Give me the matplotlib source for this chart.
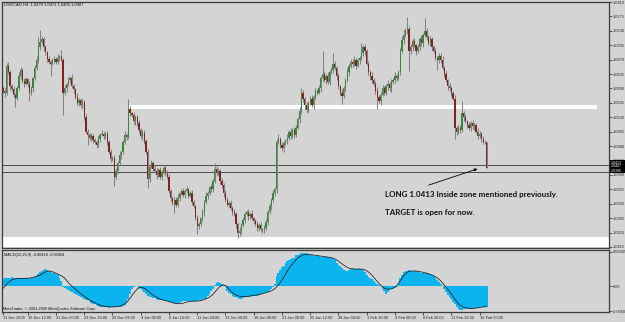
import numpy as np
import matplotlib
matplotlib.use("Agg")
import matplotlib.pyplot as plt
from matplotlib.patches import Rectangle

# USDCAD H4, 11 Dec 2009 .. 16 Feb 2010. prices in pips above 1.0000
first_open = 600
closes = [
    595, 588, 655, 640, 605, 598, 585, 578, 600, 630, 645, 618, 612, 622, 610, 590, 600, 625, 650, 668, 700, 712, 720, 700, 688,
    672, 665, 660, 668, 672, 665, 675, 678, 670, 590, 600, 610, 620, 625, 605, 598, 580, 565, 572, 560, 568, 530, 495, 488, 480,
    485, 476, 470, 462, 478, 488, 490, 484, 490, 470, 446, 428, 432, 385, 400, 420, 438, 445, 470, 488, 482, 550, 540, 535, 520,
    530, 515, 500, 484, 492, 472, 445, 380, 410, 420, 405, 400, 390, 402, 385, 398, 408, 395, 385, 350, 335, 322, 330, 318, 335,
    345, 350, 342, 350, 355, 340, 345, 325, 315, 285, 265, 270, 285, 300, 325, 340, 345, 360, 355, 375, 405, 395, 400, 375, 365,
    345, 330, 318, 322, 310, 300, 295, 270, 248, 255, 268, 280, 295, 300, 290, 295, 285, 278, 270, 262, 268, 258, 256, 262, 275,
    300, 315, 330, 345, 355, 470, 478, 462, 455, 468, 472, 480, 495, 485, 500, 488, 505, 525, 545, 590, 575, 560, 548, 565, 575,
    560, 580, 595, 590, 600, 625, 635, 620, 630, 615, 640, 645, 660, 650, 630, 605, 590, 582, 600, 620, 640, 655, 665, 660, 670,
    655, 668, 675, 685, 700, 690, 660, 640, 630, 620, 612, 595, 580, 570, 585, 600, 590, 605, 612, 600, 615, 620, 630, 625, 640,
    690, 718, 730, 740, 745, 690, 700, 715, 705, 690, 700, 720, 710, 730, 740, 725, 710, 720, 700, 690, 675, 668, 680, 670, 650,
    635, 620, 605, 600, 590, 575, 505, 495, 505, 500, 540, 530, 520, 512, 505, 515, 508, 512, 495, 485, 490, 478, 470, 470, 407,
]
wick_up = [
    6, 5, 7, 9, 4, 6, 8, 3, 5, 9,  6, 4, 7, 5, 3, 8, 6, 4, 7, 10,
    25, 30, 8, 5, 6, 4, 7, 5, 6, 8,  5, 9, 4, 16, 5, 8, 4, 7, 6, 9,
    5, 3, 8, 6, 4, 7, 5, 8, 6, 4,  7, 5, 3, 6, 9, 5, 8, 4, 6, 7,
    5, 8, 4, 6, 7, 5, 9, 4, 6, 8,  5, 24, 7, 4, 8, 6, 5, 9, 4, 7,
    6, 5, 8, 4, 7, 5, 9, 6, 4, 8,  5, 7, 4, 6, 8, 5, 3, 7, 6, 9,
    4, 6, 8, 5, 7, 4, 6, 9, 5, 3,  7, 6, 4, 8, 5, 9, 6, 4, 7, 5,
    13, 6, 8, 4, 7, 5, 9, 6, 4, 8,  5, 7, 4, 6, 9, 5, 8, 4, 6, 7,
    5, 9, 4, 6, 8, 5, 7, 4, 6, 8,  5, 7, 4, 9, 6, 8, 12, 5, 7, 4,
    6, 9, 5, 8, 4, 7, 6, 5, 9, 10,  7, 5, 8, 4, 6, 9, 5, 7, 4, 8,
    6, 55, 7, 5, 9, 4, 8, 26, 6, 5,  7, 4, 8, 6, 5, 9, 4, 7, 6, 8,
    5, 7, 4, 25, 6, 8, 5, 7, 4, 9,  6, 5, 8, 4, 7, 9, 5, 6, 8, 4,
    7, 5, 9, 6, 4, 8, 10, 12, 8, 29,  6, 9, 5, 7, 4, 8, 6, 9, 5, 30,
    7, 4, 8, 6, 5, 9, 4, 7, 6, 8,  5, 7, 4, 9, 6, 5, 8, 4, 7, 6,
    30, 5, 8, 4, 7, 6, 9, 5, 4, 8,  6, 5, 7, 4, 1,
]
wick_dn = [
    5, 8, 4, 6, 9, 5, 7, 24, 6, 4,  7, 5, 9, 4, 6, 20, 5, 8, 4, 6,
    5, 7, 4, 9, 6, 8, 5, 30, 4, 7,  6, 5, 8, 4, 55, 6, 9, 4, 7, 5,
    8, 6, 4, 7, 5, 9, 6, 4, 25, 5,  7, 8, 4, 6, 5, 9, 4, 7, 6, 8,
    5, 7, 4, 23, 6, 8, 5, 9, 4, 6,  7, 5, 8, 4, 6, 9, 5, 7, 4, 8,
    6, 5, 22, 7, 4, 8, 6, 9, 5, 4,  7, 6, 8, 4, 5, 9, 6, 24, 7, 5,
    8, 4, 6, 9, 5, 7, 4, 8, 6, 5,  19, 7, 4, 6, 9, 5, 8, 4, 7, 6,
    5, 8, 4, 7, 6, 9, 5, 4, 8, 6,  7, 5, 9, 12, 6, 8, 4, 7, 5, 9,
    6, 4, 8, 5, 7, 9, 4, 6, 8, 5,  7, 4, 9, 6, 5, 8, 4, 7, 6, 9,
    5, 8, 4, 7, 6, 9, 5, 4, 8, 6,  7, 9, 5, 8, 4, 6, 9, 5, 7, 4,
    8, 6, 5, 9, 4, 7, 6, 8, 5, 9,  6, 8, 20, 5, 7, 4, 9, 6, 8, 5,
    7, 4, 9, 6, 5, 8, 4, 7, 9, 6,  5, 8, 30, 6, 9, 4, 7, 5, 8, 6,
    9, 4, 7, 6, 5, 8, 4, 9, 6, 7,  48, 6, 9, 5, 8, 4, 7, 6, 9, 5,
    8, 4, 6, 9, 5, 7, 22, 6, 8, 4,  7, 5, 9, 6, 8, 4, 27, 7, 5, 9,
    6, 8, 4, 7, 5, 9, 6, 8, 4, 7,  5, 9, 6, 4, 1,
]
# MACD(12,26,9), units of 0.00001
macd_hist = [
    140, 150, 155, 160, 165, 168, 165, 160, 162, 165,  166, 160, 155, 150, 148, 145, 150, 160, 180, 200,
    230, 270, 300, 320, 326, 320, 300, 280, 260, 250,  240, 210, 150, 100, -10, -40, -60, -80, -100, -121,
    -140, -160, -180, -200, -215, -230, -250, -270, -280, -300,  -330, -345, -360, -380, -395, -405, -410, -415, -420, -420,
    -422, -420, -418, -420, -418, -415, -410, -408, -400, -380,  -330, -250, -150, -60, -10, 5, -5, -30, -60, -90,
    -120, -150, -190, -210, -220, -230, -240, -255, -270, -280,  -280, -285, -290, -300, -310, -320, -330, -340, -345, -340,
    -330, -320, -300, -295, -290, -290, -288, -290, -292, -290,  -285, -275, -265, -260, -255, -250, -200, -150, -100, -60,
    20, 60, 70, 60, 30, 15, -20, -90, -130, -160,  -190, -210, -220, -235, -250, -245, -230, -220, -215, -210,
    -205, -200, -195, -200, -190, -170, -150, -135, -130, -125,  -115, -100, -60, -25, 30, 200, 260, 320, 370, 390,
    450, 480, 500, 520, 540, 550, 600, 615, 625, 640,  650, 655, 640, 620, 605, 600, 595, 590, 585, 580,
    575, 575, 570, 565, 560, 560, 555, 540, 500, 450,  420, 400, 350, 320, 300, 300, 320, 340, 345, 340,
    335, 340, 345, 340, 320, 280, 220, 180, 150, 130,  90, 60, 40, 20, 0, -60, -100, -150, -120, -80,
    -60, -50, -40, -10, 60, 150, 220, 270, 290, 300,  305, 300, 295, 300, 295, 280, 270, 260, 255, 250,
    250, 245, 240, 215, 190, 160, 120, 80, 40, 0,  -60, -120, -170, -220, -260, -310, -360, -410, -440, -460,
    -470, -455, -445, -440, -438, -440, -440, -435, -430, -425,  -420, -418, -415, -420, -418,
]
macd_signal = [
    -45, -10, 30, 70, 100, 120, 134, 140, 145, 148,  150, 150, 150, 150, 152, 155, 160, 168, 178, 190,
    200, 215, 235, 255, 275, 288, 292, 290, 280, 265,  250, 235, 215, 200, 180, 150, 110, 70, 30, 0,
    -30, -60, -90, -120, -150, -175, -200, -225, -250, -275,  -295, -310, -325, -345, -360, -375, -385, -395, -400, -405,
    -408, -410, -410, -408, -405, -400, -395, -385, -370, -350,  -320, -280, -240, -190, -140, -100, -60, -35, -25, -30,
    -45, -65, -90, -120, -150, -175, -200, -220, -240, -255,  -265, -275, -285, -295, -305, -315, -325, -335, -340, -345,
    -345, -340, -335, -325, -315, -305, -300, -298, -295, -295,  -295, -290, -285, -275, -265, -250, -235, -215, -190, -160,
    -120, -80, -40, -10, 15, 20, 10, -20, -60, -100,  -130, -155, -175, -190, -200, -205, -208, -208, -205, -200,
    -195, -190, -185, -180, -175, -170, -160, -150, -140, -130,  -120, -110, -95, -75, -50, -20, 20, 70, 120, 170,
    230, 290, 340, 390, 430, 470, 510, 545, 570, 590,  605, 612, 616, 616, 614, 610, 605, 600, 595, 590,
    585, 580, 575, 570, 565, 560, 555, 545, 530, 510,  485, 460, 435, 410, 385, 365, 350, 340, 335, 332,
    330, 330, 330, 330, 325, 315, 300, 275, 245, 210,  170, 130, 90, 50, 15, -15, -40, -55, -62, -62,
    -55, -40, -20, 10, 50, 100, 150, 200, 240, 270,  285, 292, 295, 295, 292, 288, 282, 275, 268, 260,
    250, 240, 228, 215, 200, 180, 160, 130, 100, 60,  20, -20, -65, -110, -160, -210, -260, -305, -345, -375,
    -400, -415, -425, -432, -436, -438, -438, -436, -430, -425,  -418, -412, -408, -406, -404,
]

zone_line = 1.0556          # white resistance line
entry_lines = [1.0413, 1.0396]
support_zone = (1.0216, 1.0239)
box_labels = ["1.0413", "1.0407", "1.0396"]

date_labels = ["11 Dec 2009", "16 Dec 12:00", "21 Dec 00:00", "23 Dec 16:00", "29 Dec 08:00",
               "4 Jan 00:00", "6 Jan 16:00", "11 Jan 04:00", "13 Jan 20:00", "18 Jan 08:00",
               "21 Jan 00:00", "25 Jan 12:00", "28 Jan 04:00", "1 Feb 16:00", "4 Feb 08:00",
               "8 Feb 20:00", "11 Feb 12:00", "16 Feb 00:00"]
price_ticks = [1.0215, 1.0250, 1.0285, 1.0320, 1.0355, 1.0390, 1.0425, 1.0460, 1.0495,
               1.0530, 1.0565, 1.0600, 1.0635, 1.0670, 1.0705, 1.0740, 1.0775, 1.0810]

# ---- build ohlc
c = 1 + np.array(closes) / 10000.0
o = np.r_[1 + first_open / 10000.0, c[:-1]]
h = np.maximum(o, c) + np.array(wick_up) / 10000.0
l = np.minimum(o, c) - np.array(wick_dn) / 10000.0
x = np.arange(len(c))

BG = '#d4d4d4'
W, H = 625, 322
fx = lambda px: px / W
fy = lambda py: 1 - py / H

fig = plt.figure(figsize=(6.25, 3.22), dpi=100, facecolor=BG)
plt.rcParams['font.family'] = ['Liberation Sans', 'DejaVu Sans']

ax = fig.add_axes([fx(2), fy(248), fx(609) - fx(2), fy(2) - fy(248)], facecolor=BG)
axm = fig.add_axes([fx(2), fy(312), fx(609) - fx(2), fy(250) - fy(312)], facecolor=BG)

xlim = (-0.57, 343.3)

# main chart
ax.axhspan(support_zone[0], support_zone[1], color='white', lw=0, zorder=1)
ax.plot([71, 336.5], [zone_line, zone_line], color='white', lw=2.9, solid_capstyle='butt', zorder=1)
for p in entry_lines:
    ax.axhline(p, color='#4a4a4a', lw=0.7, zorder=1)

ax.vlines(x, l, h, color='#828282', lw=0.75, zorder=2)
up = c >= o
body = np.where(np.abs(c - o) < 0.00008, 0.00008, c - o)
ax.bar(x[up], body[up], bottom=o[up], width=0.72, color='#348a38', lw=0, zorder=3)
ax.bar(x[~up], body[~up], bottom=o[~up], width=0.72, color='#7e2424', lw=0, zorder=3)

ax.set_xlim(*xlim)
ax.set_ylim(1.02125, 1.08076)
ax.set_xticks([])
ax.yaxis.tick_right()
ax.set_yticks(price_ticks)
ax.set_yticklabels(["%.4f" % p for p in price_ticks], fontsize=2.8)
ax.tick_params(axis='y', length=2, width=0.5, pad=1, colors='#202020')

# macd
hist = np.array(macd_hist) / 1e5
sig = np.array(macd_signal) / 1e5
axm.bar(x, hist, width=1.0, color='#0bb4ee', lw=0, zorder=2)
axm.plot(x, sig, color='#1a1a1a', lw=0.55, zorder=3)
axm.set_xlim(*xlim)
axm.set_ylim(-0.00508, 0.00704)
axm.yaxis.tick_right()
axm.set_yticks([0.00665, 0.0, -0.00495])
axm.set_yticklabels(["0.00665", "0.00", "-0.00502"], fontsize=2.8)
axm.tick_params(axis='y', length=2, width=0.5, pad=0.8, colors='#202020')
tick_pos = [0] + [16 * k - 2 for k in range(1, len(date_labels))]
axm.set_xticks(tick_pos)
axm.set_xticklabels(date_labels, fontsize=2.8, ha='left')
axm.tick_params(axis='x', length=2, width=0.5, pad=1, colors='#202020')

for a in (ax, axm):
    for s in a.spines.values():
        s.set_color('#3c3c3c')
        s.set_linewidth(0.9)

# texts
fig.text(fx(4), fy(5), "USDCAD,H4  1.0470 1.0471 1.0406 1.0407", fontsize=3.0, va='center', color='#101010')
fig.text(fx(4), fy(255), "MACD(12,26,9) -0.00418 -0.00404", fontsize=2.8, va='center', color='#101010')
fig.text(fx(3), fy(309), "MetaTrader, \u00a9 2001-2009 MetaQuotes Software Corp.", fontsize=2.8, va='center', color='#101010')

fig.text(fx(385), fy(195), "LONG 1.0413 Inside zone mentioned previously.", fontsize=5.75,
         fontweight='bold', family=['Lato', 'DejaVu Sans'], va='center', color='#111111')
fig.text(fx(385), fy(213), "TARGET is open for now.", fontsize=5.75,
         fontweight='bold', family=['Lato', 'DejaVu Sans'], va='center', color='#111111')
fig.add_artist(plt.Annotation('', xy=(fx(480), fy(168)), xytext=(fx(426), fy(186)),
                              xycoords='figure fraction', textcoords='figure fraction',
                              arrowprops=dict(arrowstyle='-|>', color='black', lw=0.6, mutation_scale=4)))

# current price boxes on the price scale
fig.add_artist(Rectangle((fx(609.5), fy(172.5)), fx(625) - fx(609.5), fy(160) - fy(172.5),
                         transform=fig.transFigure, color='black', lw=0, zorder=5))
for k, lab in enumerate(box_labels):
    fig.text(fx(611), fy(162.5 + 4 * k), lab, fontsize=2.6, color='white', va='center', zorder=6)

fig.savefig("out.png", dpi=100, facecolor=BG)
